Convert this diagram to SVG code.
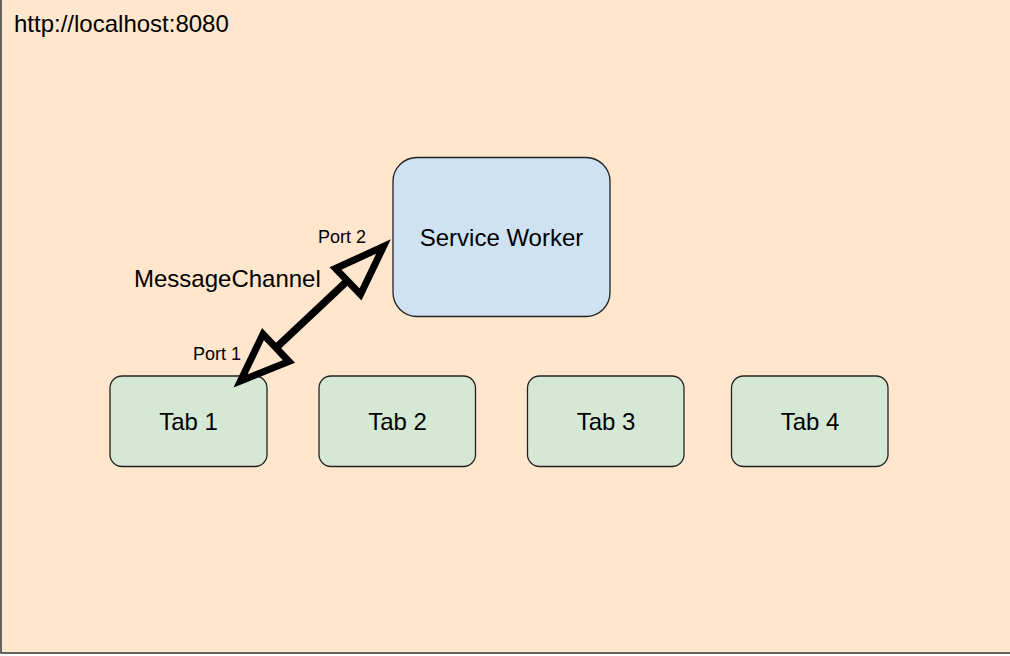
<svg xmlns="http://www.w3.org/2000/svg" width="1010" height="656" viewBox="0 0 1010 656">
<style>
text{font-family:"Liberation Sans",Arial,sans-serif;fill:#000}
.lbl{font-size:24px}
.port{font-size:18px}
.tab{fill:#d5e8d4;stroke:#222;stroke-width:1.3}
.sw{fill:#cfe2f3;stroke:#222;stroke-width:1.3}
.head{fill:none;stroke:#000;stroke-width:7;stroke-linejoin:miter}
.shaft{stroke:#000;stroke-width:7.5}
</style>
<rect x="0" y="0" width="1010" height="656" fill="#ffffff"/>
<g id="origin">
<rect x="1" y="-5" width="1015" height="658" fill="#ffe6cc" stroke="#333" stroke-width="1.5"/>
<text class="lbl" x="14" y="32">http://localhost:8080</text>
</g>
<g id="service-worker">
<rect class="sw" x="393" y="157.5" width="217" height="159" rx="24" ry="24"/>
<text class="lbl" x="501.5" y="245.5" text-anchor="middle">Service Worker</text>
</g>
<g id="tab1">
<rect class="tab" x="110" y="376" width="157" height="90.5" rx="12" ry="12"/>
<text class="lbl" x="188.5" y="429.5" text-anchor="middle">Tab 1</text>
</g>
<g id="tab2">
<rect class="tab" x="319" y="376" width="156.5" height="90.5" rx="12" ry="12"/>
<text class="lbl" x="397.5" y="429.5" text-anchor="middle">Tab 2</text>
</g>
<g id="tab3">
<rect class="tab" x="527.5" y="376" width="156.5" height="90.5" rx="12" ry="12"/>
<text class="lbl" x="606" y="429.5" text-anchor="middle">Tab 3</text>
</g>
<g id="tab4">
<rect class="tab" x="731.5" y="376" width="156.5" height="90.5" rx="12" ry="12"/>
<text class="lbl" x="810" y="429.5" text-anchor="middle">Tab 4</text>
</g>
<g id="connectors">
<line class="shaft" x1="275.6" y1="348.2" x2="348.5" y2="279.7"/>
<polygon class="head" points="383.5,246.5 360.5,294.5 335.5,268.5"/>
<polygon class="head" points="240.5,381 289,361.5 263,334"/>
<text class="lbl" x="134" y="287">MessageChannel</text>
<text class="port" x="318" y="242.5">Port 2</text>
<text class="port" x="193" y="360">Port 1</text>
</g>
</svg>
